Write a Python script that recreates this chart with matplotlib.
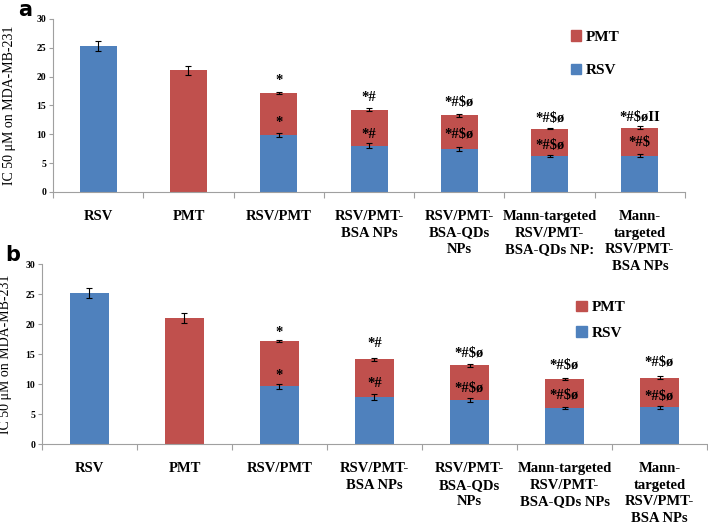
import matplotlib
matplotlib.use("Agg")
import matplotlib.pyplot as plt
from matplotlib.patches import Patch

categories_a = ["RSV", "PMT", "RSV/PMT", "RSV/PMT-\nBSA NPs", "RSV/PMT-\nBSA-QDs\nNPs",
                "Mann-targeted\nRSV/PMT-\nBSA-QDs NP:", "Mann-\ntargeted\nRSV/PMT-\nBSA NPs"]
categories_b = ["RSV", "PMT", "RSV/PMT", "RSV/PMT-\nBSA NPs", "RSV/PMT-\nBSA-QDs\nNPs",
                "Mann-targeted\nRSV/PMT-\nBSA-QDs NPs", "Mann-\ntargeted\nRSV/PMT-\nBSA NPs"]

# panel a
rsv_a = [25.3, 0.0, 9.8, 8.0, 7.45, 6.2, 6.3]
total_a = [25.3, 21.1, 17.2, 14.3, 13.3, 11.0, 11.15]
rsv_err_a = [0.0, 0.0, 0.35, 0.45, 0.3, 0.2, 0.25]
total_err_a = [0.9, 0.8, 0.2, 0.2, 0.25, 0.1, 0.25]
top_marks_a = ["", "", "*", "*#", "*#$ø", "*#$ø", "*#$øII"]
top_pos_a = [0, 0, 19.3, 16.3, 15.6, 12.8, 13.0]
mid_marks_a = ["", "", "*", "*#", "*#$ø", "*#$ø", "*#$"]
mid_pos_a = [0, 0, 12.0, 10.0, 9.9, 8.0, 8.5]

# panel b
rsv_b = [25.2, 0.0, 9.7, 7.9, 7.4, 6.1, 6.2]
total_b = [25.2, 21.0, 17.2, 14.2, 13.2, 10.9, 11.1]
rsv_err_b = [0.0, 0.0, 0.4, 0.5, 0.3, 0.2, 0.25]
total_err_b = [0.9, 0.8, 0.2, 0.25, 0.25, 0.15, 0.25]
top_marks_b = ["", "", "*", "*#", "*#$ø", "*#$ø", "*#$ø"]
top_pos_b = [0, 0, 18.6, 16.8, 15.1, 13.1, 13.7]
mid_marks_b = ["", "", "*", "*#", "*#$ø", "*#$ø", "*#$ø"]
mid_pos_b = [0, 0, 11.5, 10.2, 9.3, 8.2, 7.9]

yticks = [0, 5, 10, 15, 20, 25, 30]

BLUE = "#4F81BD"
RED = "#C0504D"
SERIF = ["Liberation Serif", "DejaVu Serif"]

fig = plt.figure(figsize=(7.08, 5.27), dpi=100)


def panel(rect, cats, rsv, total, rsv_err, total_err, top_marks, top_pos,
          mid_marks, mid_pos, letter, letter_xy, ylab_x, legend_anchor, legend_sp, z):
    ax = fig.add_axes(rect)
    ax.set_zorder(z)
    ax.patch.set_alpha(0)
    n = len(cats)
    x = list(range(n))
    pmt = [t - r for t, r in zip(total, rsv)]
    w = 0.41
    ax.bar(x, rsv, width=w, color=BLUE, zorder=2)
    ax.bar(x, pmt, width=w, bottom=rsv, color=RED, zorder=2)
    for i in range(n):
        if rsv_err[i] > 0:
            ax.errorbar(x[i], rsv[i], yerr=rsv_err[i], color="black", lw=0.8,
                        capsize=2.5, capthick=0.8, zorder=3)
        ax.errorbar(x[i], total[i], yerr=total_err[i], color="black", lw=0.8,
                    capsize=2.5, capthick=0.8, zorder=3)
        if top_marks[i]:
            ax.text(x[i], top_pos[i], top_marks[i], ha="center", va="center",
                    fontsize=10.5, fontweight="bold", family=SERIF, zorder=4)
        if mid_marks[i]:
            ax.text(x[i], mid_pos[i], mid_marks[i], ha="center", va="center",
                    fontsize=10.5, fontweight="bold", family=SERIF, zorder=4)
    ax.set_xlim(-0.5, n - 0.5)
    ax.set_ylim(0, 30)
    ax.set_yticks(yticks)
    ax.set_yticklabels([str(v) for v in yticks], fontsize=7, fontweight="bold",
                       family=SERIF)
    ax.set_xticks([i + 0.5 for i in range(-1, n)], minor=False)
    ax.set_xticklabels([])
    ax.set_xticks(x, minor=True)
    ax.set_xticklabels(cats, minor=True, fontsize=10.5, fontweight="bold",
                       family=SERIF, va="top", linespacing=1.35)
    ax.tick_params(axis="x", which="minor", length=0, pad=13)
    ax.tick_params(axis="x", which="major", length=4, color="#A0A0A0", direction="out")
    ax.tick_params(axis="y", length=3, color="#A0A0A0", pad=2)
    for s in ["top", "right"]:
        ax.spines[s].set_visible(False)
    for s in ["left", "bottom"]:
        ax.spines[s].set_color("#A0A0A0")
        ax.spines[s].set_linewidth(0.8)
    ax.set_ylabel("IC 50 μM on MDA-MB-231", fontsize=10, family=SERIF)
    ax.yaxis.set_label_coords(ylab_x, 0.5)
    handles = [Patch(color=RED, label="PMT"), Patch(color=BLUE, label="RSV")]
    ax.legend(handles=handles, loc="center", bbox_to_anchor=legend_anchor,
              frameon=False, handlelength=0.7, handleheight=0.7, handletextpad=0.3,
              labelspacing=legend_sp,
              prop={"family": SERIF, "weight": "bold", "size": 11})
    fig.text(letter_xy[0], letter_xy[1], letter, fontsize=15, fontweight="bold",
             family="DejaVu Sans", ha="left", va="top")
    return ax


panel([0.0749, 0.6357, 0.8926, 0.3283], categories_a, rsv_a, total_a, rsv_err_a,
      total_err_a, top_marks_a, top_pos_a, mid_marks_a, mid_pos_a, "a",
      (0.026, 1.0), -0.058, (0.858, 0.80), 1.3, 2)
panel([0.0593, 0.1569, 0.9393, 0.3416], categories_b, rsv_b, total_b, rsv_err_b,
      total_err_b, top_marks_b, top_pos_b, mid_marks_b, mid_pos_b, "b",
      (0.008, 0.536), -0.045, (0.84, 0.69), 0.75, 1)

fig.savefig("out.png", dpi=100)
